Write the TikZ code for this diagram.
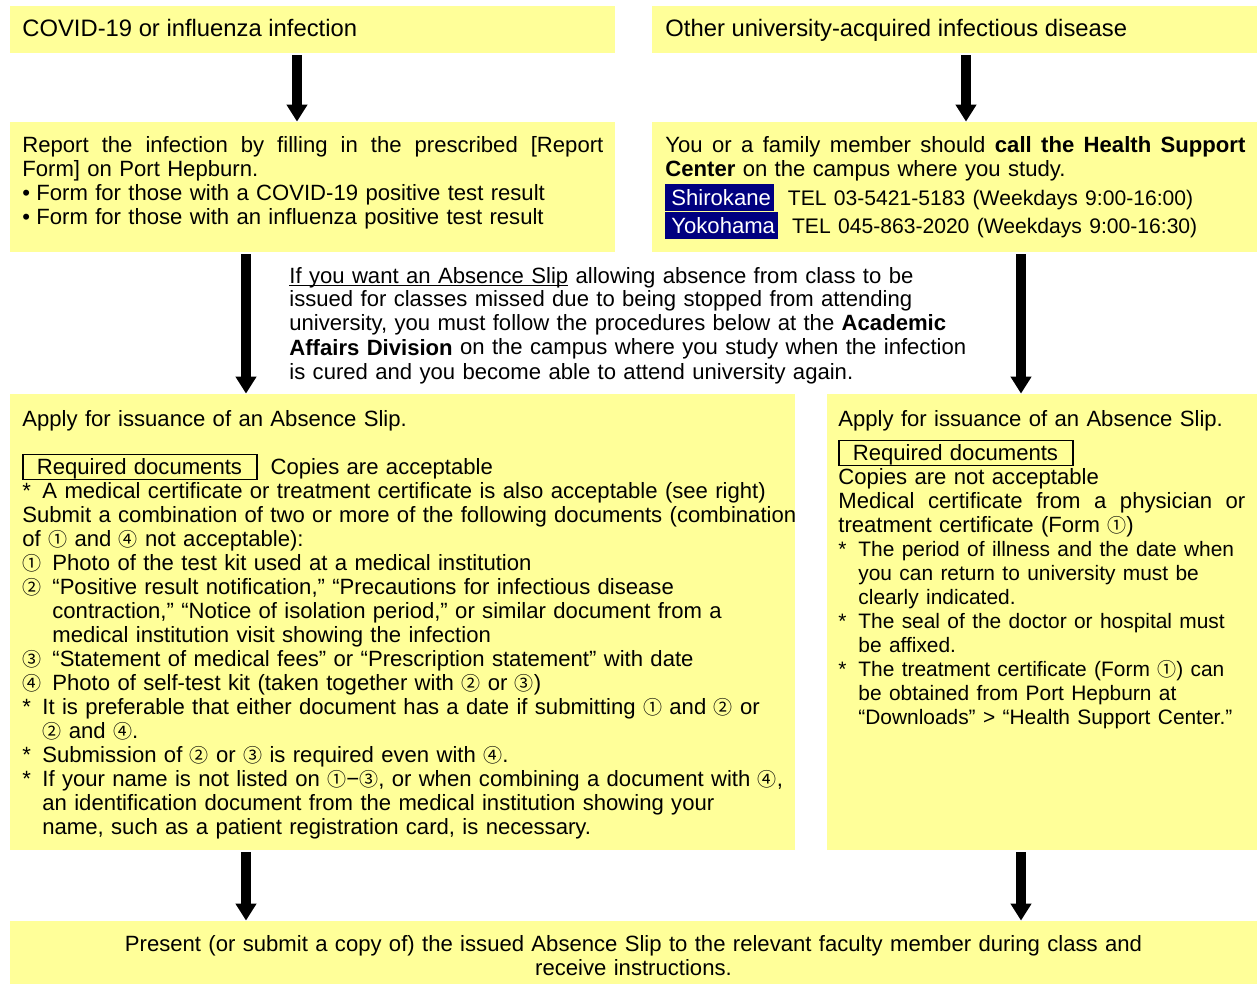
\documentclass[tikz,border=0pt]{standalone}
\usepackage{fontspec}
\setmainfont{Liberation Sans}
\newfontfamily\circfont{Noto Sans CJK JP}
\usetikzlibrary{arrows.meta,fit}
\definecolor{paleyellow}{HTML}{FFFF99}
\definecolor{campusblue}{HTML}{000080}
\newcommand{\boxfont}{\fontsize{11.05}{12}\selectfont\lineskiplimit=-100pt\relax\hyphenpenalty=10000\relax}
\newcommand{\titlefont}{\fontsize{11.9}{12}\selectfont}
\newcommand{\telfont}{\fontsize{10.55}{12}\selectfont}
\newcommand{\notefont}{\fontsize{10.45}{12}\selectfont}
\newcommand{\circnum}[1]{{\circfont\fontsize{9.5}{12}\selectfont #1}}
\newcommand{\reqdocs}{{\fboxsep=0pt\fboxrule=0.75pt\fbox{\rule[-1.5pt]{0pt}{11pt}\hspace{6.5pt}Required documents\hspace{7pt}}}}
\newcommand{\campus}[1]{{\fboxsep=0pt\colorbox{campusblue}{\rule[-2.75pt]{0pt}{13.75pt}\hspace{3pt}\color{white}#1\hspace{1.5pt}}}}
\newcommand{\spreadline}[2]{\leavevmode\hbox to #1{\spaceskip=.278em plus 1fil\xspaceskip=.278em plus 1fil\relax #2}}
\newcommand{\starmark}{\makebox[10pt][l]{*}}
\newcommand{\itemno}[1]{\makebox[15pt][l]{\circnum{#1}}}
\newcommand{\bulletmark}{\makebox[7pt][l]{•}}

\begin{document}
\begin{tikzpicture}[x=0.5pt,y=-0.5pt,
		ybox/.style={fill=paleyellow, draw=none, inner sep=0pt},
		txt/.style={inner sep=0pt, align=left, font=\boxfont},
		flowarrow/.style={line width=5pt, -{Triangle[width=10pt,length=8.5pt]}, shorten <=1pt}]
		\useasboundingbox (0,0) rectangle (1257,984);
		% boxes
		\node[ybox, fit={(10,6) (615,53)}] (covid) {};
		\node[ybox, fit={(652,6) (1257,53)}] (other) {};
		\node[ybox, fit={(10,122) (615,252)}] (report) {};
		\node[ybox, fit={(652,122) (1257,252)}] (call) {};
		\node[ybox, fit={(10,394) (795,850)}] (slipleft) {};
		\node[ybox, fit={(827,394) (1257,850)}] (slipright) {};
		\node[ybox, fit={(10,921) (1257,984)}] (present) {};
		% texts
		\node[txt, anchor=base west, font=\titlefont] (covidtext) at (22,37) {COVID-19 or influenza infection};
		\node[txt, anchor=base west, font=\titlefont] (othertext) at (665,37) {Other university-acquired infectious disease};
		\node[txt, anchor=base west, text width=300pt] (reporttext) at (22,153) {%
			\spreadline{290.5pt}{Report the infection by filling in the prescribed [Report}\\
			Form] on Port Hepburn.\\
			\bulletmark Form for those with a COVID-19 positive test result\\
			\bulletmark Form for those with an influenza positive test result};
		\node[txt, anchor=base west, text width=300pt] (calltext) at (665,153) {%
			\spreadline{290pt}{You or a family member should \textbf{call the Health Support}}\\
			\textbf{Center} on the campus where you study.\\[2.5pt]
			\campus{Shirokane}\hspace{7pt}{\telfont TEL 03-5421-5183 (Weekdays 9:00-16:00)}\\[2pt]
			\campus{Yokohama}\hspace{7pt}{\telfont TEL 045-863-2020 (Weekdays 9:00-16:30)}};
		\node[txt, anchor=base west, text width=400pt] (notetext) at (289,283) {%
			\underline{\smash{If you want an Absence Slip}} allowing absence from class to be\\
			issued for classes missed due to being stopped from attending\\
			university, you must follow the procedures below at the \textbf{Academic}\\
			\textbf{Affairs Division} on the campus where you study when the infection\\
			is cured and you become able to attend university again.};
		\node[txt, anchor=base west, text width=420pt] (slipelefttext) at (22,426) {%
			Apply for issuance of an Absence Slip.\\[12pt]
			\reqdocs\hspace{6.5pt}Copies are acceptable\\
			\starmark A medical certificate or treatment certificate is also acceptable (see right)\\
			Submit a combination of two or more of the following documents (combination\\
			of \circnum{①} and \circnum{④} not acceptable):\\
			\itemno{①}Photo of the test kit used at a medical institution\\
			\itemno{②}“Positive result notification,” “Precautions for infectious disease\\
			\hspace*{15pt}contraction,” “Notice of isolation period,” or similar document from a\\
			\hspace*{15pt}medical institution visit showing the infection\\
			\itemno{③}“Statement of medical fees” or “Prescription statement” with date\\
			\itemno{④}Photo of self-test kit (taken together with \circnum{②} or \circnum{③})\\
			\starmark It is preferable that either document has a date if submitting \circnum{①} and \circnum{②} or\\
			\hspace*{10pt}\circnum{②} and \circnum{④}.\\
			\starmark Submission of \circnum{②} or \circnum{③} is required even with \circnum{④}.\\
			\starmark If your name is not listed on \circnum{①}−\circnum{③}, or when combining a document with \circnum{④},\\
			\hspace*{10pt}an identification document from the medical institution showing your\\
			\hspace*{10pt}name, such as a patient registration card, is necessary.};
		\node[txt, anchor=base west, text width=240pt] (sliprighttext) at (838,426) {%
			Apply for issuance of an Absence Slip.\\[5pt]
			\reqdocs\\
			Copies are not acceptable\\
			\spreadline{203.5pt}{Medical certificate from a physician or}\\
			treatment certificate (Form \circnum{①})\\
			\notefont
			\starmark The period of illness and the date when\\
			\hspace*{10pt}you can return to university must be\\
			\hspace*{10pt}clearly indicated.\\
			\starmark The seal of the doctor or hospital must\\
			\hspace*{10pt}be affixed.\\
			\starmark The treatment certificate (Form \circnum{①}) can\\
			\hspace*{10pt}be obtained from Port Hepburn at\\
			\hspace*{10pt}“Downloads” > “Health Support Center.”};
		\node[txt, anchor=base, align=center, text width=620pt] (presenttext) at (633.5,951) {%
			Present (or submit a copy of) the issued Absence Slip to the relevant faculty member during class and\\
			receive instructions.};
		% arrows
		\coordinate (laneA) at (297,0);
		\coordinate (laneB) at (966,0);
		\coordinate (laneC) at (246,0);
		\coordinate (laneD) at (1021,0);
		\draw[flowarrow] (covid.south -| laneA) -- (report.north -| laneA);
		\draw[flowarrow] (other.south -| laneB) -- (call.north -| laneB);
		\draw[flowarrow] (report.south -| laneC) -- (slipleft.north -| laneC);
		\draw[flowarrow] (call.south -| laneD) -- (slipright.north -| laneD);
		\draw[flowarrow] (slipleft.south -| laneC) -- (present.north -| laneC);
		\draw[flowarrow] (slipright.south -| laneD) -- (present.north -| laneD);
	\end{tikzpicture}
\end{document}
